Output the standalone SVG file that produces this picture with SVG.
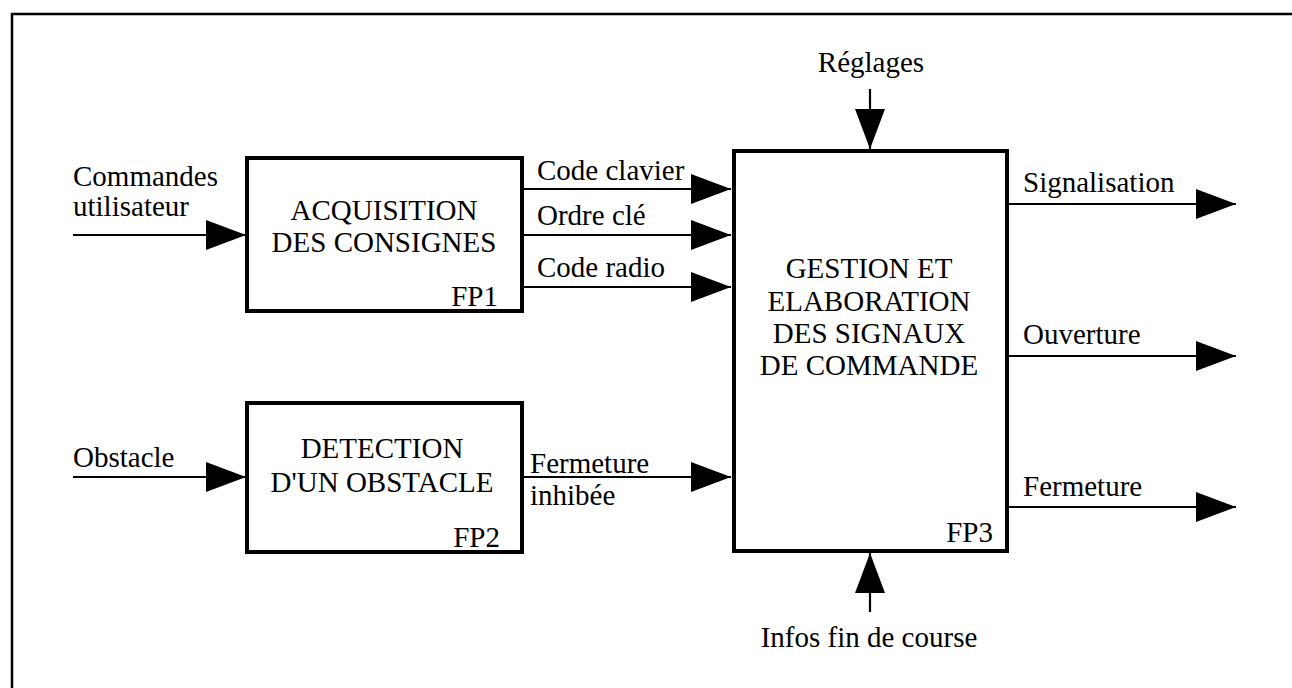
<svg xmlns="http://www.w3.org/2000/svg" width="1292" height="688" viewBox="0 0 1292 688">
<style>
text{font-size:29px;fill:#000}
.box{fill:#fff;stroke:#000;stroke-width:4}
.c{stroke:#000;stroke-width:2.2;fill:none;marker-end:url(#ah)}
.m{text-anchor:middle}
.e{text-anchor:end}
</style>
<defs>
<marker id="ah" markerUnits="userSpaceOnUse" markerWidth="40" markerHeight="30" refX="40" refY="15" orient="auto">
<path d="M0,0 L40,15 L0,30 z" fill="#000"/>
</marker>
</defs>
<rect width="1292" height="688" fill="#fff"/>
<rect x="12" y="14" width="1300" height="700" fill="none" stroke="#000" stroke-width="2.5"/>
<g font-family="Liberation Serif, DejaVu Serif, serif">
<g id="connectors">
<line class="c" x1="73" y1="235" x2="246" y2="235"/>
<line class="c" x1="73" y1="477" x2="246" y2="477"/>
<line class="c" x1="523" y1="189" x2="731" y2="189"/>
<line class="c" x1="523" y1="235" x2="731" y2="235"/>
<line class="c" x1="523" y1="287" x2="731" y2="287"/>
<line class="c" x1="523" y1="477" x2="731" y2="477"/>
<line class="c" x1="870" y1="89" x2="870" y2="149"/>
<line class="c" x1="870" y1="612" x2="870" y2="553"/>
<line class="c" x1="1008" y1="204" x2="1236" y2="204"/>
<line class="c" x1="1008" y1="356" x2="1236" y2="356"/>
<line class="c" x1="1008" y1="507" x2="1236" y2="507"/>
</g>
<g id="labels">
<text x="73" y="186">Commandes</text>
<text x="73" y="216">utilisateur</text>
<text x="73" y="467">Obstacle</text>
<text x="537" y="180">Code clavier</text>
<text x="537" y="225">Ordre clé</text>
<text x="537" y="277">Code radio</text>
<text x="530" y="473">Fermeture</text>
<text x="530" y="505">inhibée</text>
<text class="m" x="871" y="72">Réglages</text>
<text class="m" x="869" y="647">Infos fin de course</text>
<text x="1023" y="192">Signalisation</text>
<text x="1023" y="344">Ouverture</text>
<text x="1023" y="496">Fermeture</text>
</g>
<g id="fp1">
<rect class="box" x="247" y="158" width="275" height="153"/>
<text class="m" x="384" y="220">ACQUISITION</text>
<text class="m" x="384" y="252">DES CONSIGNES</text>
<text class="e" x="498" y="306">FP1</text>
</g>
<g id="fp2">
<rect class="box" x="247" y="403" width="275" height="149"/>
<text class="m" x="382" y="458">DETECTION</text>
<text class="m" x="382" y="492">D'UN OBSTACLE</text>
<text class="e" x="500" y="547">FP2</text>
</g>
<g id="fp3">
<rect class="box" x="734" y="151" width="273" height="400"/>
<text class="m" x="869" y="278">GESTION ET</text>
<text class="m" x="869" y="311">ELABORATION</text>
<text class="m" x="869" y="343">DES SIGNAUX</text>
<text class="m" x="869" y="375">DE COMMANDE</text>
<text class="e" x="993" y="542">FP3</text>
</g>
</g>
</svg>
